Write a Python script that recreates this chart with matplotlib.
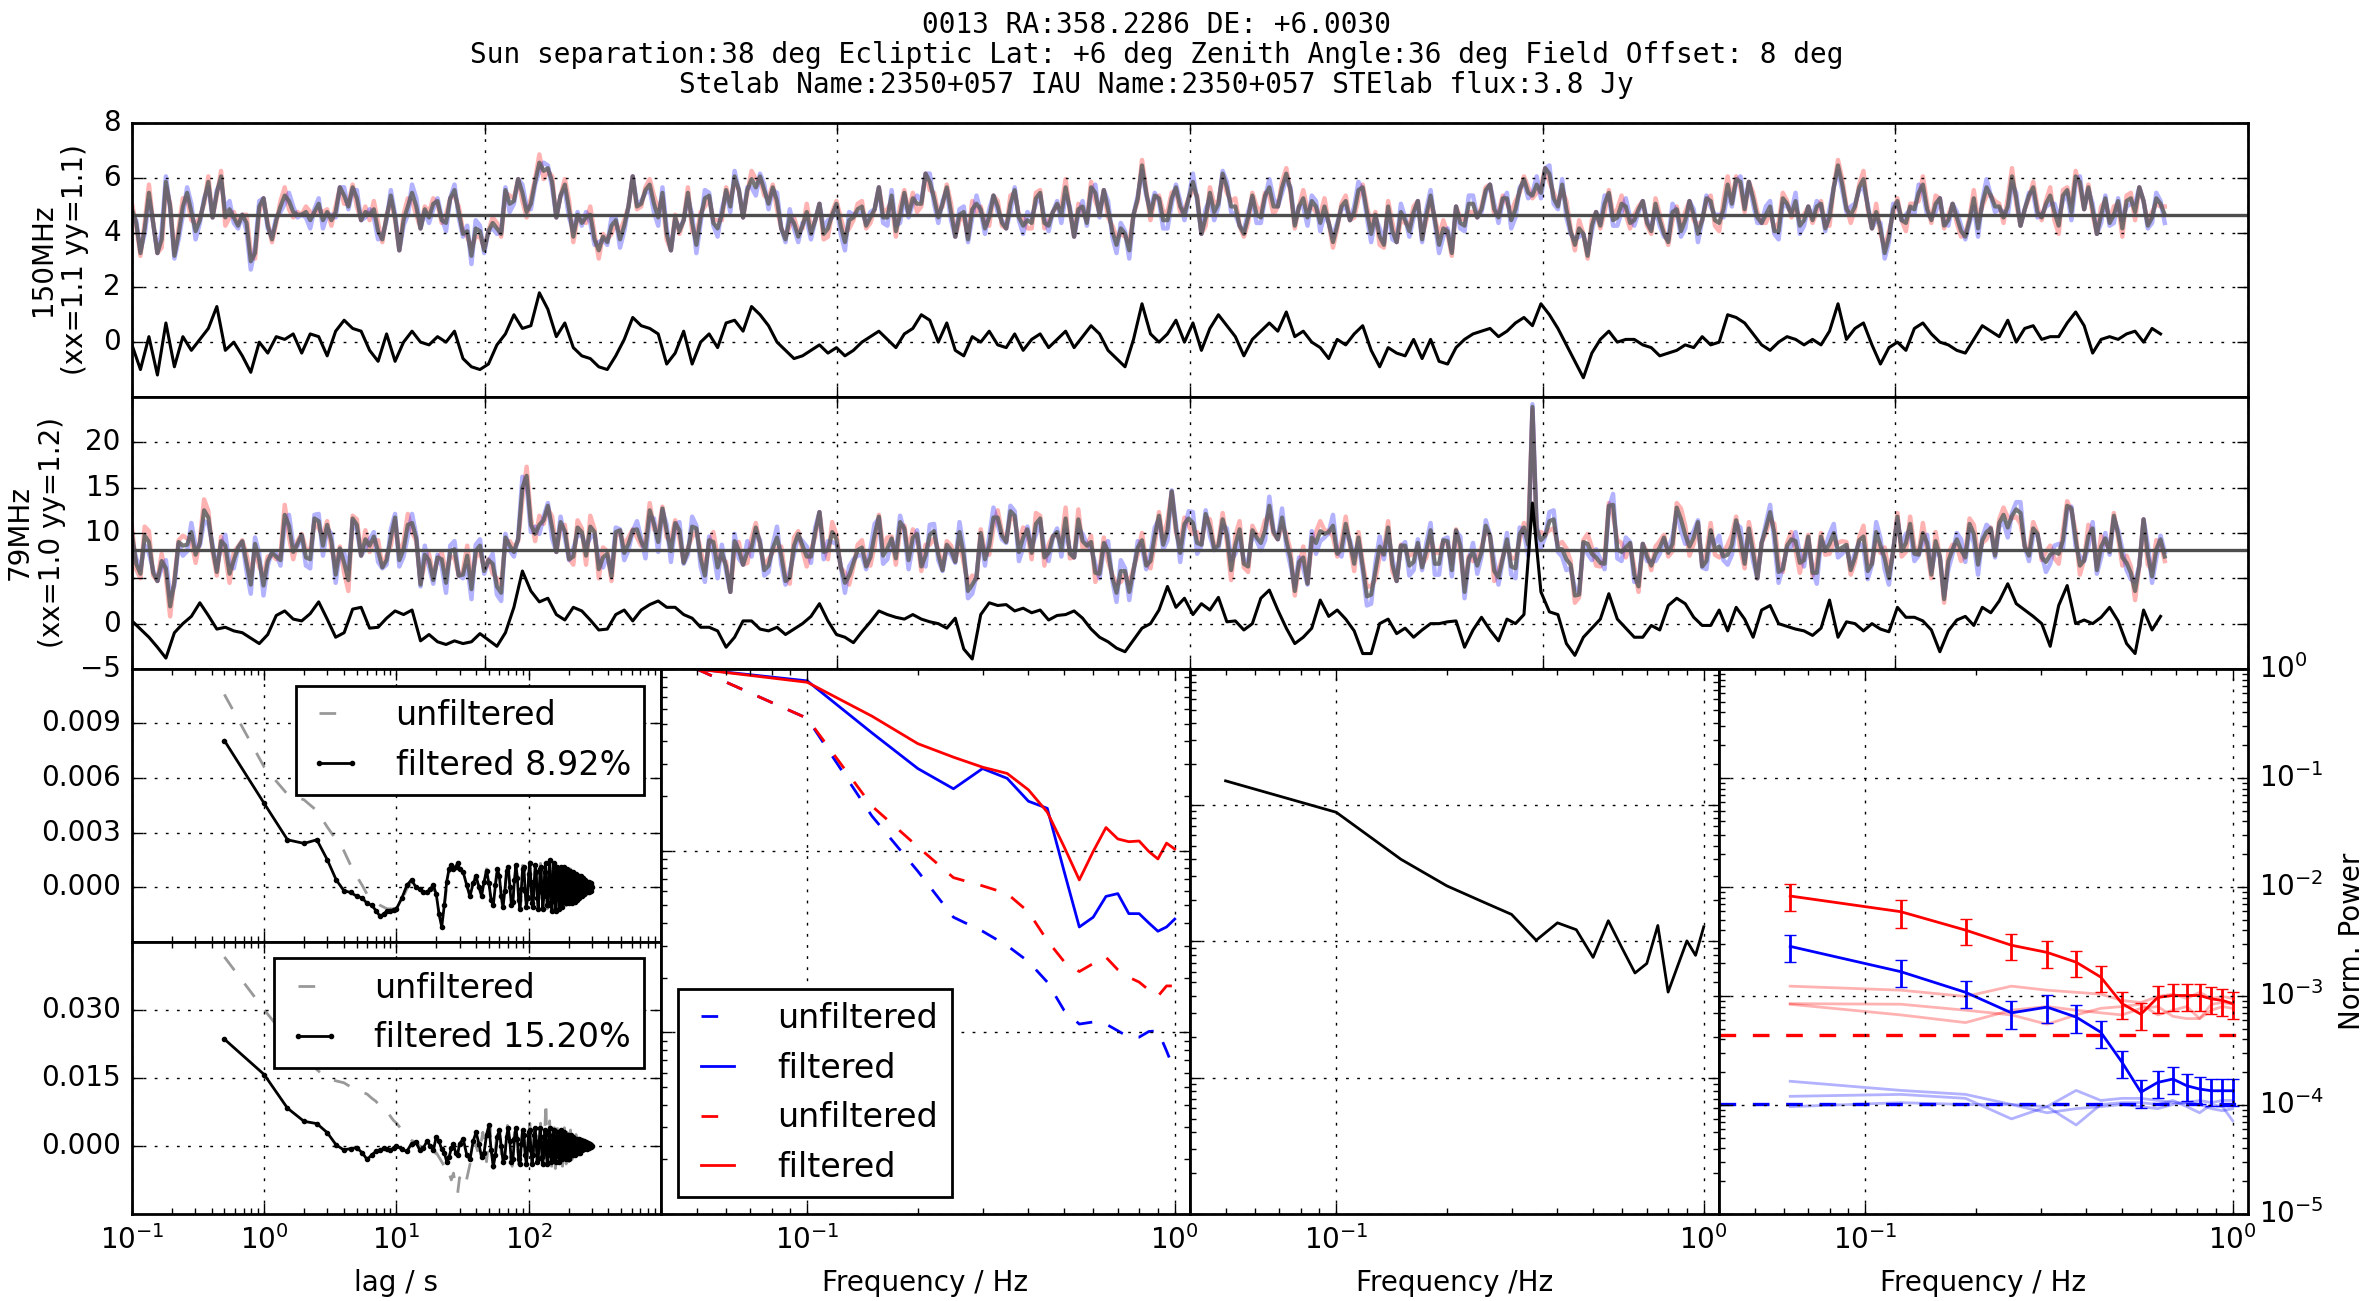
import numpy as np
import matplotlib
matplotlib.use("Agg")
from matplotlib import pyplot as plt
from matplotlib.ticker import FormatStrFormatter

# ---------------- time series (sample index along x) ----------------
# filtered trace, one value per bin
level150 = 4.65
black150 = [
    -0.1, -1.0, 0.2, -1.2, 0.7, -0.9, 0.2, -0.3, 0.1, 0.5, 1.3, -0.3, 0.0, -0.5, -1.1, 0.0, -0.4, 0.2, 0.1, 0.3,
    -0.4, 0.3, 0.2, -0.5, 0.4, 0.8, 0.5, 0.4, -0.3, -0.7, 0.3, -0.7, 0.0, 0.4, 0.0, -0.1, 0.2, 0.0, 0.4, -0.6,
    -0.9, -1.0, -0.8, -0.1, 0.3, 1.0, 0.5, 0.6, 1.8, 1.2, 0.2, 0.7, -0.2, -0.5, -0.6, -0.9, -1.0, -0.5, 0.1, 0.9,
    0.6, 0.5, 0.3, -0.8, -0.4, 0.4, -0.8, 0.0, 0.3, -0.2, 0.7, 0.8, 0.4, 1.3, 1.0, 0.6, 0.0, -0.3, -0.6, -0.5,
    -0.3, -0.1, -0.4, -0.2, -0.5, -0.3, 0.0, 0.2, 0.4, 0.1, -0.2, 0.3, 0.5, 1.0, 0.8, 0.0, 0.7, -0.3, -0.5, 0.2,
    0.0, 0.4, -0.1, -0.2, 0.3, -0.3, 0.1, 0.3, -0.2, 0.1, 0.4, -0.2, 0.2, 0.6, 0.3, -0.3, -0.6, -0.9, 0.1, 1.4,
    0.3, 0.0, 0.3, 0.8, 0.0, 0.7, -0.3, 0.5, 1.0, 0.6, 0.2, -0.5, 0.1, 0.4, 0.7, 0.4, 1.1, 0.2, 0.4, 0.0,
    -0.2, -0.6, 0.1, -0.1, 0.3, 0.6, -0.3, -0.9, -0.2, -0.4, -0.5, 0.1, -0.6, 0.1, -0.7, -0.8, -0.2, 0.1, 0.3, 0.4,
    0.5, 0.2, 0.4, 0.7, 0.9, 0.6, 1.4, 1.0, 0.5, -0.1, -0.7, -1.3, -0.4, 0.1, 0.4, 0.0, 0.1, 0.1, -0.1, -0.2,
    -0.5, -0.4, -0.3, -0.1, -0.2, 0.2, -0.1, 0.0, 1.0, 0.9, 0.7, 0.3, -0.1, -0.3, 0.0, 0.2, 0.1, -0.1, 0.1, -0.1,
    0.4, 1.4, 0.1, 0.5, 0.7, -0.1, -0.8, -0.2, 0.0, -0.3, 0.5, 0.7, 0.3, 0.0, -0.1, -0.3, -0.4, 0.1, 0.6, 0.4,
    0.2, 0.8, 0.0, 0.5, 0.6, 0.1, 0.2, 0.2, 0.7, 1.1, 0.6, -0.4, 0.1, 0.2, 0.1, 0.3, 0.4, 0.0, 0.5, 0.3,
]
# raw (xx+yy)/2 minus level minus filtered, two raw samples per bin, 0.1 units
resid150_a = [
    3, -4, 6, -2, 5, -6, 1, 4, -3, 7, -5, 2, -1, 5, -6, 3, 0, -4, 6, -2,
    4, -5, 2, 6, -3, -1, 5, -6, 3, 1, -4, 6, -2, 4, -5, 0, 3, -3, 5, -1,
    -6, 4, 2, -4, 6, -5, 3, -2, 1, 5, -3, 4, -6, 2, 6, -4, 0, 3, -5, 5,
    -2, 6, -4, 1, 3, -6, 5, -1, 4, -3, 2, 6, -5, 0, 4, -2, 5, -6, 3, 1,
    -4, 5, -1, 6, -5, 2, 3, -3, 6, -2, -4, 5, 1, -6, 4, -1, 3, -5, 6, 0,
    2, -5, 4, -3, 6, -1, -4, 5, -2, 3, 6, -6, 1, 4, -3, 5, -5, 2, -1, 4,
    -3, 6, -5, 2, 0, 5, -4, 3, -6, 4, 1, -2, 6, -5, 3, -1, 4, -6, 2, 5,
    -1, 3, -5, 6, -2, 4, -4, 1, 5, -6, 3, 0, -3, 6, -4, 2, 5, -5, 1, -2,
    6, -3, 2, -5, 4, 1, -6, 5, -2, 3, -4, 6, 0, -5, 4, -1, 2, -3, 6, -4,
    3, -6, 5, -1, 2, -4, 6, -3, 1, 4, -5, 3, -2, 6, -6, 2, 4, -1, -3, 5,
    -5, 4, 1, -2, 6, -4, 3, -6, 5, 0, -3, 4, -5, 6, -1, 2, -4, 5, -2, 3,
    1, -5, 6, -3, 4, -2, 5, -6, 2, 3, -4, 6, -1, -5, 4, 2, -3, 5, -6, 1,
]
resid150_b = [
    -2, 5, -5, 3, -4, 2, 6, -3, 4, -6, 1, 5, -4, 2, -3, 6, -5, 1, 4, -3,
    5, -2, -4, 3, 6, -5, 1, -3, 5, -2, 4, -6, 3, -1, 2, 5, -4, 6, -3, 0,
    4, -3, 5, -6, 1, 3, -4, 6, -2, 0, 5, -5, 2, 4, -3, 1, 6, -4, 2, -6,
    3, -1, 5, -5, -2, 4, -3, 6, -6, 2, -4, 1, 5, -3, -1, 4, -5, 2, -2, 6,
    1, -6, 4, -2, 3, 5, -4, 0, -5, 6, 2, -3, -1, 5, -2, 4, -6, 3, -4, 2,
    -5, 3, -2, 6, -4, 1, 5, -6, 3, -1, -2, 4, -5, 2, 6, -3, 1, -4, 5, -6,
    4, -2, 3, -5, 6, -1, 2, -4, 5, -3, -6, 4, -1, 3, -4, 6, -2, 1, -5, 3,
    5, -4, 2, -1, 6, -5, 3, -2, -4, 5, -1, 4, 6, -3, 2, -6, -1, 3, -4, 5,
    -3, 4, -6, 2, -1, 5, 3, -4, 6, -5, 2, -2, 5, 3, -6, 4, -4, 1, -2, 6,
    -2, 5, -3, 6, -5, 4, -1, 2, -6, 3, 5, -4, 1, -3, 6, -2, -5, 4, 2, -4,
    6, -3, -1, 5, -4, 2, -6, 4, -2, 6, 3, -5, 1, -4, 5, -3, 2, -6, 4, -1,
    -3, 6, -4, 2, -5, 3, -1, 5, -6, 1, 4, -3, 5, -2, -6, 3, 6, -4, 1, -3,
]
# half difference xx - yy, 0.1 units
pol150_a = [
    2, -1, 3, 0, -2, 1, 3, -3, 1, 2, -1, -3, 2, 0, 3, -2, 1, -1, 3, -2,
    0, 3, -2, 1, 2, -3, 1, 0, -2, 3, 1, -1, 2, -3, 0, 2, -1, 3, -2, 1,
    3, -2, 0, 2, -1, 1, -3, 2, 3, -1, 0, 2, -2, 1, 3, -3, 1, -1, 2, 0,
    -1, 2, 3, -2, 1, 0, -3, 2, -1, 3, 1, -2, 0, 3, -1, 2, -3, 1, 2, -1,
    2, 0, -3, 1, 3, -1, 2, -2, 0, 3, -2, 1, 2, -1, -3, 2, 1, 0, -2, 3,
    1, -3, 2, 0, -1, 3, -2, 1, 2, -1, 3, 0, -2, 2, 1, -3, 3, -1, 0, 2,
    -2, 1, 3, -1, 2, -3, 0, 2, 1, -2, 3, -1, 1, 2, -3, 0, 2, -1, 3, -2,
    3, 0, -1, 2, -2, 1, 3, -3, 2, 0, -1, 2, 1, -2, 3, -1, 0, 2, -3, 1,
    0, 2, -2, 3, 1, -1, 2, -3, 1, 3, -2, 0, 2, -1, 1, 3, -3, 2, 0, -1,
    2, -1, 1, 3, -2, 0, 2, -3, 3, 1, -1, 2, 0, -2, 3, 1, -3, 2, -1, 1,
    -3, 2, 1, -1, 3, 0, -2, 2, 1, -3, 2, 3, -1, 0, 2, -2, 1, 3, -1, 0,
    1, 3, -2, 0, 2, -1, 3, -3, 1, 2, 0, -2, 3, 1, -1, 2, -3, 0, 2, -1,
]
pol150_b = [
    -1, 2, 0, -3, 1, 2, -2, 3, -1, 0, 2, -3, 1, 3, -2, 0, -1, 2, -3, 1,
    2, -1, 3, -2, 0, 1, -3, 2, 3, -1, -2, 0, 3, -3, 1, 2, -1, 0, 2, -2,
    -3, 1, 2, -1, 3, 0, -2, 1, -3, 2, 0, 3, -1, -2, 2, 1, -3, 3, 0, -1,
    1, 3, -2, 0, -1, 2, 3, -3, 1, -2, 2, 0, -1, 3, -2, 1, 0, -3, 2, 3,
    0, -2, 1, 3, -3, 2, -1, 0, 2, -2, 3, 1, -3, 0, 2, -1, 3, -2, 1, -3,
    2, 0, -1, 3, 1, -3, 2, -2, 0, 3, -1, 2, 1, -3, 0, 2, -2, 3, -1, 1,
    -1, 3, 2, -2, 0, 1, -3, 3, -1, 2, 0, -2, 3, 1, -3, 2, -1, 0, 3, -2,
    3, -2, 1, 0, -3, 2, 1, -1, 3, -3, 2, 0, -2, 1, 3, -1, 2, -3, 0, 1,
    -2, 1, 3, -1, 2, -3, 0, 2, -2, 1, 3, -1, 0, -3, 2, 3, -2, 1, -1, 2,
    1, -3, 2, 0, 3, -1, -2, 3, 1, -2, 0, 2, -3, 1, 2, -1, 3, 0, -2, 1,
    0, 2, -3, 1, -1, 3, 2, -2, 0, 1, -3, 2, 3, -1, 0, -2, 1, 3, -3, 2,
    -2, 3, 0, -1, 2, 1, -3, 2, 3, -2, 1, 0, -1, 3, -3, 2, 0, 1, -2, 3,
]

level79 = 8.1
black79 = [
    0.3, -0.6, -1.5, -2.6, -3.8, -1.0, 0.0, 0.8, 2.3, 0.9, -0.6, -0.4, -0.8, -1.0, -1.6, -2.2, -1.2, 0.9, 1.4, 0.5,
    0.3, 1.1, 2.4, 0.5, -1.5, -1.0, 1.6, 1.8, -0.5, -0.4, 0.6, 1.4, 1.0, 1.5, -1.9, -1.2, -2.0, -2.3, -1.9, -2.2,
    -2.0, -1.1, -1.8, -2.5, -1.0, 1.8, 5.8, 3.6, 2.4, 2.8, 1.0, 0.4, 1.8, 1.4, 0.4, -0.7, -0.6, 1.0, 1.5, 0.3,
    1.5, 2.1, 2.5, 1.8, 1.8, 1.0, 0.6, -0.4, -0.4, -0.8, -2.6, -1.5, 0.3, 0.3, -0.6, -0.8, -0.4, -1.2, -0.6, 0.0,
    0.8, 2.2, 0.3, -1.2, -1.5, -2.1, -0.9, 0.2, 1.4, 1.0, 0.7, 0.5, 1.0, 0.5, 0.2, 0.0, -0.5, 0.6, -2.8, -3.9,
    1.0, 2.3, 2.0, 2.1, 1.4, 1.7, 1.2, 1.5, 0.4, 0.9, 1.0, 1.4, 0.6, -0.6, -1.5, -2.0, -2.7, -3.1, -1.8, -0.5,
    0.0, 1.5, 4.1, 1.8, 2.8, 1.0, 2.2, 1.5, 2.9, 0.2, 0.3, -0.7, 0.0, 2.8, 3.7, 1.5, -0.5, -2.2, -1.5, -0.5,
    2.6, 0.8, 1.5, 0.5, -0.8, -3.3, -3.3, 0.0, 0.5, -1.1, -0.5, -1.5, -0.7, 0.0, 0.0, 0.2, 0.3, -2.6, -0.7, 0.7,
    -0.7, -1.9, 0.5, 0.0, 1.0, 13.3, 3.5, 1.3, 1.0, -2.2, -3.5, -1.5, -0.5, 0.5, 3.3, 0.5, -0.5, -1.5, -1.5, -0.2,
    -0.7, 2.0, 2.8, 2.2, 0.7, -0.2, -0.2, 1.5, -0.8, 1.8, 0.5, -1.5, 1.5, 2.0, 0.0, -0.3, -0.6, -0.8, -1.3, -0.5,
    2.6, -1.5, 0.2, 0.0, -0.8, 0.0, -0.6, -0.9, 1.8, 0.7, 0.7, 0.3, -0.7, -3.1, -0.8, 0.4, 0.8, -0.2, 1.8, 1.2,
    2.5, 4.4, 2.2, 1.5, 0.8, 0.0, -2.5, 2.0, 4.2, 0.0, 0.4, 0.0, 0.7, 1.8, 0.3, -2.2, -3.3, 1.5, -0.7, 0.8,
]
resid79_a = [
    15, -20, 24, -8, 18, -25, 5, 12, -15, 27, -18, 9, -3, 20, -22, 11, 0, -16, 25, -7,
    14, -21, 8, 23, -12, -4, 19, -24, 10, 3, -17, 22, -9, 15, -19, 1, 12, -13, 20, -5,
    -23, 16, 7, -15, 24, -20, 11, -8, 4, 21, -12, 17, -25, 6, 22, -14, 2, 10, -18, 19,
    -6, 23, -16, 3, 12, -24, 20, -5, 15, -11, 8, 25, -19, 0, 14, -9, 18, -22, 11, 5,
    -15, 20, -3, 24, -21, 7, 12, -10, 23, -8, -16, 19, 4, -23, 15, -5, 11, -19, 22, 1,
    9, -18, 16, -12, 24, -3, -15, 20, -7, 11, 25, -22, 4, 15, -11, 19, -20, 8, -4, 16,
    -12, 23, -19, 6, 1, 20, -16, 10, -24, 15, 3, -8, 22, -20, 12, -3, 16, -23, 7, 19,
    -5, 12, -19, 24, -7, 15, -16, 4, 20, -23, 10, 2, -12, 22, -15, 8, 19, -20, 5, -9,
    23, -11, 7, -20, 15, 25, -24, 19, -8, 12, -15, 24, 1, -19, 16, -4, 8, -12, 22, -15,
    10, -23, 19, -5, 7, -16, 24, -11, 3, 15, -20, 12, -7, 22, -24, 8, 16, -3, -12, 20,
    -19, 15, 4, -8, 23, -15, 11, -22, 19, 1, -11, 16, -20, 24, -4, 8, -16, 20, -7, 12,
    5, -19, 23, -11, 16, -8, 20, -24, 7, 12, -15, 24, -3, -20, 15, 8, -12, 19, -22, 4,
]
resid79_b = [
    -18, 22, -10, 14, -24, 19, 6, -13, 21, -7, 16, -22, 11, -4, 23, -17, 9, -20, 13, 2,
    -11, 24, -19, 5, 17, -23, 12, -6, 20, -15, 8, -25, 18, -2, 14, -21, 10, 22, -9, 16,
    19, -12, 3, -22, 15, -6, 24, -18, 9, -3, 21, -14, 7, -20, 16, -1, -23, 12, -8, 20,
    -14, 8, 21, -19, 4, -11, 18, -24, 13, 6, -20, 15, -5, 22, -16, 10, -2, -18, 24, -7,
    12, -24, 17, -6, -13, 21, -9, 15, -20, 3, 24, -16, 8, -11, 19, -22, 5, 14, -17, 9,
    -20, 13, -4, 22, -16, 6, 17, -23, 11, -8, -14, 20, -1, -19, 23, -10, 4, -15, 21, -12,
    16, -9, 24, -21, 7, -2, 18, -13, 5, -24, 20, -11, 14, -6, -17, 21, -4, 9, -22, 13,
    -8, 19, -14, 3, 22, -18, 10, -5, -21, 16, -12, 23, 7, -15, 11, -24, 2, 17, -10, 20,
    -16, 10, -23, 18, -4, -110, -19, 21, -9, 6, -14, 22, -3, -20, 17, -7, 13, -25, 8, -2,
    21, -13, 6, -18, 24, -10, 3, -22, 14, -5, 19, -16, 9, -1, -21, 15, -8, 23, -12, 4,
    -7, 18, -24, 11, -15, 20, -3, 8, -19, 22, -12, 5, 17, -23, 9, -4, 21, -14, 2, -18,
    14, -6, 19, -21, 10, -13, 23, -9, 4, -17, 12, -22, 6, 20, -11, -3, 16, -20, 8, -15,
]
pol79_a = [
    8, -5, 12, 0, -9, 4, 11, -10, 3, 7, -4, -12, 9, 1, 10, -7, 5, -3, 11, -8,
    1, 10, -8, 4, 9, -11, 3, 0, -7, 12, 5, -4, 8, -10, 2, 7, -3, 11, -9, 4,
    11, -7, 1, 9, -4, 5, -12, 8, 10, -3, 0, 7, -9, 4, 12, -10, 3, -5, 8, 1,
    -4, 8, 11, -7, 3, 1, -11, 9, -4, 12, 5, -8, 0, 10, -3, 7, -12, 4, 9, -5,
    7, 0, -10, 5, 11, -4, 8, -9, 2, 12, -7, 3, 9, -5, -11, 6, 4, 1, -8, 10,
    4, -10, 8, 1, -5, 11, -7, 3, 9, -4, 12, 0, -8, 7, 5, -11, 10, -3, 2, 8,
    -8, 4, 11, -5, 7, -12, 1, 9, 3, -7, 10, -4, 5, 8, -10, 0, 7, -5, 12, -7,
    11, 1, -3, 8, -8, 5, 10, -11, 7, 0, -4, 9, 3, -8, 12, -4, 1, 7, -10, 5,
    0, 8, -7, 11, 5, -3, 9, -10, 4, 12, -8, 2, 7, -4, 3, 10, -11, 8, 0, -5,
    7, -4, 5, 10, -7, 1, 8, -12, 11, 4, -5, 9, 0, -8, 12, 3, -10, 7, -3, 4,
    -11, 8, 3, -5, 12, 1, -8, 7, 4, -10, 8, 11, -4, 0, 9, -7, 5, 10, -3, 1,
    4, 11, -8, 0, 7, -3, 10, -11, 5, 8, 1, -7, 12, 3, -4, 8, -10, 0, 7, -4,
]
pol79_b = [
    -6, 10, -3, 8, -11, 2, 7, -9, 12, -4, 5, -10, 1, 9, -7, 11, -2, 6, -12, 3,
    9, -4, 11, -8, 2, -12, 6, 10, -5, 1, -9, 7, 12, -3, -10, 4, 8, -6, 0, 11,
    -7, 3, -11, 9, 5, -2, 10, -8, -4, 12, -6, 1, 8, -10, 3, 11, -5, -1, 7, -9,
    10, -6, 2, 12, -9, 4, -3, 7, 11, -8, 0, 9, -12, 5, 6, -4, 10, -7, 3, -11,
    -5, 8, 11, -1, -10, 6, 3, -12, 9, 2, -7, 10, -4, 12, -8, 1, 5, -11, 8, -2,
    7, -11, 4, -6, 10, -3, 12, -9, 1, 8, -5, 11, -2, -10, 6, 3, -12, 9, -7, 4,
    -9, 5, -1, 10, -8, 12, -4, 2, 7, -11, 9, -6, 3, 11, -2, -10, 8, -5, 1, 12,
    4, -12, 8, -3, 6, 10, -9, 5, -7, 1, 11, -4, -8, 12, -1, 7, -10, 3, 9, -6,
    -11, 2, 9, -7, 12, -5, 1, -10, 8, 4, -3, 11, -9, 6, -12, 10, -1, -6, 5, 8,
    3, -8, 12, -10, -2, 9, -6, 4, 11, -12, 7, 0, -5, 10, -3, 8, -11, 2, 12, -4,
    -10, 7, -5, 3, 9, -11, 12, -2, -6, 8, 1, -9, 10, -4, 5, -12, 6, 11, -8, 2,
    8, -3, -12, 6, 1, 11, -7, 9, -2, -10, 12, 4, -6, 3, -9, 7, 0, -11, 10, -5,
]

# ---------------- autocorrelation (units of 1e-3) ----------------
# filtered: lags 0.5..10 (0.5 s), 11..30 (1 s), 32..300 (2 s)
acf150_filt = [
    8.06, 4.6, 2.6, 2.4, 2.6, 1.5, 0.4, -0.2, -0.3, -0.5, -0.6, -0.9, -1.0, -1.3, -1.6, -1.5, -1.3, -1.3, -1.25, -1.2,
    -0.6, 0.1, 0.4, 0.0, -0.1, -0.3, -0.3, -0.1, 0.1, -0.4, -1.5, -2.2, -1.0, 0.3, 1.0, 1.2, 1.0, 1.1, 1.3, 1.0,
    0.8, 0.1, -0.5, 0.2, 0.6, 0.0, -0.5, 0.3, 0.9, 0.2,
    -0.7, -1.0, 0.1, 1.0, 0.6, -0.5, -1.1, -0.2, 0.9, 1.1,
    0.0, -1.0, -0.8, 0.4, 1.2, 0.5, -0.7, -1.2, -0.1, 1.0,
    1.1, -0.2, -1.1, -0.6, 0.7, 1.3, 0.3, -0.9, -1.1, 0.2,
    1.2, 0.8, -0.6, -1.2, -0.2, 1.0, 1.1, -0.3, -1.2, -0.5,
    0.8, 1.3, 0.1, -1.0, -1.0, 0.4, 1.5, 0.6, -0.8, -1.3,
    0.0, 1.3, 0.9, -0.6, -1.3, -0.2, 1.1, 1.0, -0.4, -1.2,
    -0.4, 0.9, 1.1, -0.1, -1.1, -0.7, 0.6, 1.1, 0.2, -0.9,
    -0.9, 0.3, 1.0, 0.4, -0.7, -0.9, 0.1, 0.9, 0.5, -0.5,
    -0.9, -0.1, 0.8, 0.6, -0.3, -0.8, -0.2, 0.6, 0.7, -0.2,
    -0.7, -0.4, 0.5, 0.6, -0.1, -0.6, -0.4, 0.3, 0.6, 0.1,
    -0.5, -0.4, 0.2, 0.5, 0.1, -0.4, -0.4, 0.1, 0.4, 0.2,
    -0.3, -0.3, 0.1, 0.3, 0.1, -0.2, -0.3, 0.0, 0.3, 0.1,
    -0.2, -0.2, 0.1, 0.2, 0.0,
]
# unfiltered: lags 0.5..10, 11..30, 33..300 (3 s)
acf150_unf = [
    10.6, 6.6, 5.1, 4.8, 4.2, 3.3, 2.6, 2.0, 1.2, 0.6, 0.1, -0.4, -0.6, -0.8, -1.0, -1.1, -1.2, -1.2, -1.2, -1.1,
    -0.7, -0.1, 0.3, 0.1, -0.2, -0.4, -0.3, -0.2, 0.0, -0.6, -1.4, -2.0, -1.2, 0.1, 0.8, 1.0, 0.9, 1.0, 1.1, 0.8,
    0.5, -0.6, 0.5, 0.1, -0.3, 1.0, -0.4, -1.1, 0.7, 0.8,
    -1.0, -0.4, 1.2, 0.2, -1.1, 0.3, 1.0, -0.8, -1.0, 1.2,
    0.5, -1.3, 0.2, 1.4, -0.6, -1.2, 0.9, 0.9, -1.1, -0.4,
    1.3, -0.1, -1.3, 0.6, 1.1, -1.2, -0.3, 1.7, -0.2, -1.5,
    0.8, 1.0, -1.4, -0.1, 1.3, -0.5, -1.2, 1.0, 0.6, -1.3,
    0.2, 1.2, -0.5, -1.0, 0.8, 0.6, -0.9, 0.0, 1.0, -0.6,
    -0.7, 0.9, 0.2, -0.9, 0.3, 0.8, -0.6, -0.4, 0.7, 0.0,
    -0.7, 0.4, 0.5, -0.6, 0.1, 0.6, -0.3, -0.4, 0.4, 0.2,
    -0.4, 0.2, 0.3, -0.3, -0.1, 0.3, 0.0, -0.2, 0.1, 0.0,
]
acf79_filt = [
    23.5, 15.7, 8.3, 5.4, 4.9, 2.9, 0.2, -0.9, -0.6, -0.4, -1.5, -3.0, -2.0, -1.2, -1.0, -0.5, -0.7, -0.9, -0.5, 0.0,
    -0.8, -1.2, 0.5, 0.8, -0.9, -0.4, 1.0, 0.0, -1.0, 2.0, 1.0, -0.8, -1.5, -3.5, -2.5, -0.5, 0.5, -1.5, -2.0, 0.5,
    1.5, -2.0, -3.0, 1.0, 3.0, 0.5, -2.5, -1.5, 2.5, 4.5,
    -1.0, -4.5, -2.0, 2.0, 3.5, 0.0, -3.5, -2.5, 2.0, 4.0,
    1.0, -3.5, -3.0, 1.5, 4.0, 1.5, -3.0, -4.0, 0.5, 3.5,
    2.5, -2.0, -4.0, -0.5, 3.0, 3.5, -1.0, -4.0, -2.0, 2.5,
    4.0, 0.5, -3.5, -3.0, 1.0, 4.0, 2.0, -2.5, -4.0, -0.5,
    3.5, 3.0, -1.5, -4.0, -2.0, 2.5, 4.0, 0.5, -3.5, -3.0,
    1.0, 3.5, 2.0, -2.5, -3.5, -0.5, 3.0, 3.0, -1.0, -3.5,
    -2.0, 2.0, 3.5, 0.5, -3.0, -2.5, 1.0, 3.0, 1.5, -2.0,
    -3.0, -0.5, 2.5, 2.5, -1.0, -3.0, -1.5, 1.5, 2.5, 0.5,
    -2.0, -2.0, 0.5, 2.0, 1.5, -1.0, -2.0, -0.5, 1.5, 1.5,
    -0.5, -1.5, -1.0, 1.0, 1.5, 0.0, -1.5, -1.0, 0.5, 1.2,
    0.3, -1.0, -0.8, 0.5, 1.0, 0.0, -0.8, -0.5, 0.5, 0.8,
    0.0, -0.6, -0.4, 0.4, 0.6, 0.0, -0.5, -0.2, 0.3, 0.4,
    0.0, -0.3, -0.1, 0.2, 0.0,
]
acf79_unf = [
    41.6, 30.0, 23.5, 19.7, 16.8, 14.8, 14.3, 13.9, 13.0, 12.5, 11.8, 11.4, 10.5, 9.8, 8.8, 8.3, 7.6, 6.5, 5.6, 5.0,
    3.5, 2.0, 1.2, 0.8, 0.0, -0.5, 0.2, -1.0, -2.0, -1.5, -2.5, -3.5, -4.5, -4.0, -6.0, -7.5, -6.0, -9.0, -10.5, -7.0,
    -9.0, -4.0, 1.0, -2.0, 3.0, -3.5, 4.0, -5.0, 1.5, 4.0,
    -4.5, -1.0, 4.5, -2.0, -4.5, 3.0, 3.5, -4.0, -3.0, 4.5,
    1.0, -5.0, 0.5, 5.0, -2.0, -5.0, 3.5, 3.0, -4.5, -1.0,
    5.0, 0.0, -5.5, 2.5, 10.0, -4.5, -1.5, 5.5, -1.0, -6.0,
    3.0, 4.0, -5.0, -1.5, 5.0, -2.0, -4.5, 3.5, 2.0, -4.5,
    0.5, 4.0, -2.0, -4.0, 3.0, 2.0, -3.5, 0.0, 3.5, -2.0,
    -3.0, 3.0, 1.0, -3.0, 0.5, 2.5, -2.0, -1.5, 2.0, 0.5,
    -2.0, 1.0, 1.5, -1.5, 0.0, 1.5, -1.0, -1.0, 1.0, 0.5,
    -1.0, 0.5, 0.8, -0.8, -0.3, 0.6, 0.0, -0.4, 0.2, 0.0,
]

# ---------------- power spectra ----------------
freq = [0.05, 0.10, 0.15, 0.20, 0.25, 0.30, 0.35, 0.40, 0.45, 0.50,
        0.55, 0.60, 0.65, 0.70, 0.75, 0.80, 0.85, 0.90, 0.95, 1.00]
p79_unf = [1.0, 0.535, 0.155, 0.077, 0.043, 0.036, 0.030, 0.0245, 0.0189, 0.0132,
           0.0111, 0.0114, 0.0111, 0.0102, 0.0094, 0.0094, 0.0101, 0.0102, 0.0079, 0.0061]
p79_filt = [1.0, 0.86, 0.445, 0.283, 0.219, 0.283, 0.250, 0.187, 0.171, 0.077,
            0.038, 0.043, 0.056, 0.058, 0.045, 0.045, 0.040, 0.036, 0.038, 0.042]
p150_unf = [1.0, 0.535, 0.176, 0.105, 0.071, 0.064, 0.058, 0.046, 0.032, 0.0245,
            0.0216, 0.0239, 0.0259, 0.0221, 0.0201, 0.0189, 0.0171, 0.0158, 0.018, 0.018]
p150_filt = [1.0, 0.845, 0.55, 0.388, 0.327, 0.288, 0.266, 0.216, 0.163, 0.105,
             0.069, 0.099, 0.134, 0.116, 0.112, 0.113, 0.099, 0.090, 0.110, 0.102]
ratio = [0.151, 0.0888, 0.0401, 0.0256, 0.0196, 0.0158, 0.0102, 0.0137, 0.0122, 0.00764,
         0.0142, 0.0089, 0.00587, 0.00689, 0.0131, 0.00425, 0.00665, 0.0101, 0.00791, 0.0128]

# binned normalised power (units of 1e-3)
freq_bin = [0.0625, 0.125, 0.1875, 0.25, 0.3125, 0.375, 0.4375, 0.5,
            0.5625, 0.625, 0.6875, 0.75, 0.8125, 0.875, 0.9375, 1.0]
np150 = [8.26, 5.93, 4.02, 2.92, 2.51, 2.04, 1.49, 0.85, 0.68, 0.97, 1.01, 1.01, 1.01, 0.94, 0.91, 0.85]
np150_err = [2.3, 1.7, 1.1, 0.8, 0.7, 0.55, 0.4, 0.24, 0.19, 0.27, 0.28, 0.28, 0.28, 0.26, 0.25, 0.24]
np79 = [2.85, 1.67, 1.08, 0.70, 0.79, 0.64, 0.465, 0.246, 0.131, 0.161, 0.173, 0.150, 0.140, 0.135, 0.135, 0.135]
np79_err = [0.8, 0.47, 0.3, 0.2, 0.22, 0.18, 0.13, 0.07, 0.037, 0.045, 0.048, 0.042, 0.039, 0.038, 0.038, 0.038]
ref150 = [
    [1.23, 1.13, 0.99, 1.23, 1.13, 1.08, 1.04, 0.91, 0.87, 0.99, 1.04, 0.95, 1.08, 0.95, 0.99, 0.95],
    [0.85, 0.84, 0.74, 0.67, 0.55, 0.67, 0.77, 0.80, 0.84, 0.67, 0.74, 0.80, 0.62, 0.84, 0.87, 0.84],
    [0.84, 0.67, 0.57, 0.74, 0.80, 0.74, 0.70, 0.67, 0.77, 0.80, 0.65, 0.62, 0.62, 0.74, 0.80, 0.77],
]
ref79 = [
    [0.165, 0.136, 0.125, 0.101, 0.0965, 0.136, 0.110, 0.115, 0.115, 0.110, 0.105, 0.105, 0.110, 0.105, 0.110, 0.110],
    [0.120, 0.125, 0.115, 0.0745, 0.0965, 0.0655, 0.101, 0.105, 0.105, 0.101, 0.110, 0.0965, 0.0848, 0.101, 0.0965, 0.0715],
    [0.0965, 0.105, 0.101, 0.101, 0.0848, 0.0925, 0.0965, 0.101, 0.0965, 0.0925, 0.101, 0.105, 0.101, 0.0925, 0.0885, 0.0925],
]
noise150 = 0.44   # 1e-3
noise79 = 0.103   # 1e-3

title_lines = [
    "0013 RA:358.2286 DE: +6.0030",
    "Sun separation:38 deg Ecliptic Lat: +6 deg Zenith Angle:36 deg Field Offset: 8 deg",
    "Stelab Name:2350+057 IAU Name:2350+057 STElab flux:3.8 Jy",
]

plt.style.use("classic")
plt.rcParams.update({
    "figure.facecolor": "white",
    "savefig.facecolor": "white",
    "font.family": ["DejaVu Sans"],
    "font.size": 10,
    "xtick.labelsize": 10,
    "ytick.labelsize": 10,
    "axes.labelsize": 10,
    "legend.fontsize": 12,
    "legend.numpoints": 2,
    "legend.handlelength": 1.6,
    "legend.handletextpad": 1.0,
    "mathtext.fontset": "dejavusans",
    "mathtext.default": "regular",
})

fig = plt.figure(figsize=(11.845, 6.505), dpi=200)
L, W = 0.0557, 0.8932
Q = W / 4
ax150 = fig.add_axes([L, 0.6949, W, 0.2106])
ax79 = fig.add_axes([L, 0.4858, W, 0.2091])
acf_a = fig.add_axes([L, 0.2763, Q, 0.2095])
acf_b = fig.add_axes([L, 0.0669, Q, 0.2094])
axB = fig.add_axes([L + Q, 0.0669, Q, 0.4189])
axC = fig.add_axes([L + 2 * Q, 0.0669, Q, 0.4189])
axD = fig.add_axes([L + 3 * Q, 0.0669, Q, 0.4189])


def ts_panel(ax, black, res_a, res_b, pol_a, pol_b, level, yticks, ylim, ylabel):
    n = len(black)
    black = np.array(black)
    # two raw samples per filtered bin, at i and i + 0.5
    raw = np.empty(2 * n)
    raw[0::2] = black + level + 0.1 * np.array(res_a)
    raw[1::2] = black + level + 0.1 * np.array(res_b)
    dp = np.empty(2 * n)
    dp[0::2] = 0.1 * np.array(pol_a)
    dp[1::2] = 0.1 * np.array(pol_b)
    t_raw = np.arange(2 * n) / 2.0
    ax.plot(t_raw, raw + dp, color="r", alpha=0.3, lw=1.6)
    ax.plot(t_raw, raw - dp, color="b", alpha=0.3, lw=1.6)
    ax.plot(t_raw, raw, color="0.38", lw=1.5, alpha=0.85)
    ax.axhline(level, color="0.3", lw=1.2)
    ax.plot(np.arange(n), black, color="k", lw=1.1)
    xmax = (n - 0.5) / 0.9607
    ax.set_xlim(0, xmax)
    ax.set_xticks(np.linspace(0, xmax, 7))
    ax.set_ylim(*ylim)
    ax.set_yticks(yticks)
    ax.tick_params(labelbottom=False)
    ax.grid(True)
    ax.set_ylabel(ylabel)


ts_panel(ax150, black150, resid150_a, resid150_b, pol150_a, pol150_b, level150,
         [0, 2, 4, 6, 8], (-2, 8), "150MHz\n(xx=1.1 yy=1.1)")
ts_panel(ax79, black79, resid79_a, resid79_b, pol79_a, pol79_b, level79,
         [-5, 0, 5, 10, 15, 20], (-5, 25), "79MHz\n(xx=1.0 yy=1.2)")


def lags(vals, step):
    rest = len(vals) - 40
    return np.concatenate([0.5 * np.arange(1, 21), np.arange(11, 31),
                           30 + step * np.arange(1, rest + 1)])


def acf_panel(ax, unf, filt, label, yticks, ylim):
    ax.plot(lags(unf, 3), np.array(unf) * 1e-3, "--", color="0.6", label="unfiltered")
    ax.plot(lags(filt, 2), np.array(filt) * 1e-3, "-", color="k", marker=".",
            ms=3, mec="k", label=label)
    ax.set_xscale("log")
    ax.set_xlim(0.1, 1000)
    ax.set_xticks([0.1, 1, 10, 100])
    ax.set_ylim(*ylim)
    ax.set_yticks(yticks)
    ax.yaxis.set_major_formatter(FormatStrFormatter("%.3f"))
    ax.grid(True)
    ax.legend(loc="upper right")


acf_panel(acf_a, acf150_unf, acf150_filt, "filtered 8.92%", [0, 0.003, 0.006, 0.009], (-0.003, 0.012))
acf_panel(acf_b, acf79_unf, acf79_filt, "filtered 15.20%", [0, 0.015, 0.030], (-0.015, 0.045))
acf_a.tick_params(labelbottom=False)
acf_b.set_xlabel("lag / s")

axB.plot(freq, p79_unf, "--", color="b", label="unfiltered")
axB.plot(freq, p79_filt, "-", color="b", label="filtered")
axB.plot(freq, p150_unf, "--", color="r", label="unfiltered")
axB.plot(freq, p150_filt, "-", color="r", label="filtered")
axB.set_yscale("log")
axB.set_ylim(1e-3, 1)
axB.legend(loc="lower left")
axB.set_xlabel("Frequency / Hz")

axC.plot(freq, ratio, "-", color="k")
axC.set_yscale("log")
axC.set_ylim(1e-4, 1)
axC.set_xlabel("Frequency /Hz")

for r in ref150:
    axD.plot(freq_bin, np.array(r) * 1e-3, color="r", alpha=0.3)
for r in ref79:
    axD.plot(freq_bin, np.array(r) * 1e-3, color="b", alpha=0.3)
axD.axhline(noise150 * 1e-3, color="r", ls="--", lw=1.2)
axD.axhline(noise79 * 1e-3, color="b", ls="--", lw=1.2)
axD.errorbar(freq_bin, np.array(np150) * 1e-3, yerr=np.array(np150_err) * 1e-3,
             color="r", capsize=2)
axD.errorbar(freq_bin, np.array(np79) * 1e-3, yerr=np.array(np79_err) * 1e-3,
             color="b", capsize=2)
axD.set_yscale("log")
axD.set_ylim(1e-5, 1)
axD.set_xlabel("Frequency / Hz")
axD.yaxis.set_label_position("right")
axD.set_ylabel("Norm. Power")

for ax in (axB, axC, axD):
    ax.set_xscale("log")
    ax.set_xlim(0.04, 1.1)
    ax.set_xticks([0.1, 1.0])
    ax.grid(True)
    ax.tick_params(axis="y", labelleft=False)
axD.tick_params(axis="y", labelright=True)

for y, line in zip([0.9808, 0.9577, 0.9347], title_lines):
    fig.text(0.4883, y, line, ha="center", va="center", fontsize=10,
             family="DejaVu Sans Mono")

fig.savefig("out.png", dpi=200)
